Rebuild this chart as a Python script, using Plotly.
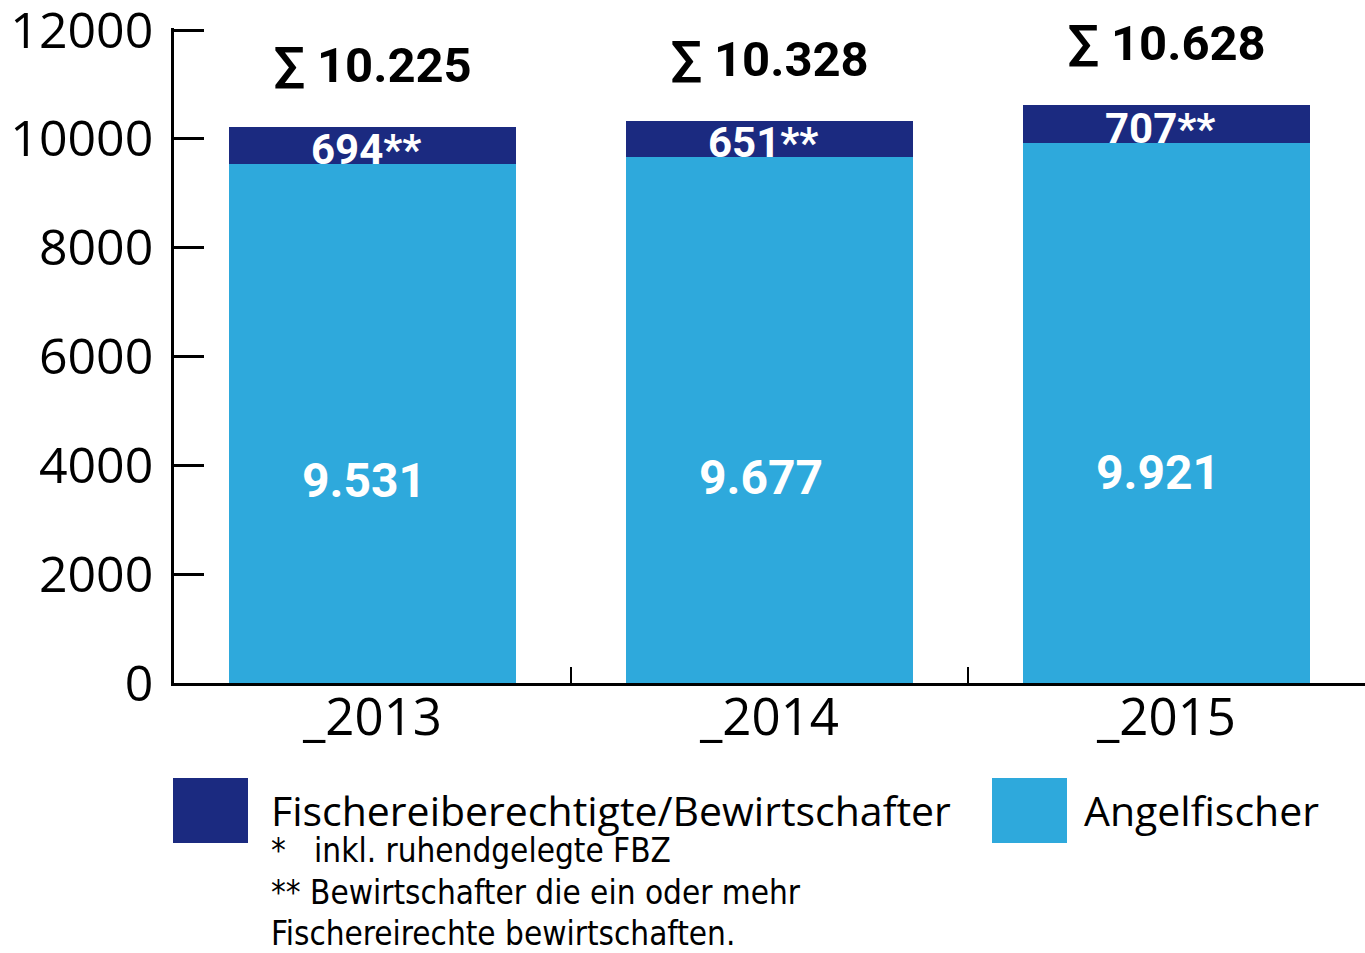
import plotly.graph_objects as go

years = ["_2013", "_2014", "_2015"]
angelfischer = [9531, 9677, 9921]
bewirtschafter = [694, 651, 707]
totals = [10225, 10328, 10628]
angel_labels = ["9.531", "9.677", "9.921"]
bew_labels = ["694**", "651**", "707**"]
sum_labels = ["∑ 10.225", "∑ 10.328", "∑ 10.628"]
y_ticks = [0, 2000, 4000, 6000, 8000, 10000, 12000]
y_ticktext = ["0", "2000", "4000", "6000", "8000", "10000", "12000"]
legend_names = ["Fischereiberechtigte/Bewirtschafter", "Angelfischer"]
footnotes = ["*   inkl. ruhendgelegte FBZ", "** Bewirtschafter die ein oder mehr", "Fischereirechte bewirtschaften."]

DARK = "#1b2a80"
LIGHT = "#2ea9dc"
REG = "Open Sans, Noto Sans, sans-serif"
BOLDF = "Roboto, sans-serif"
NARROW = "DejaVu Sans Condensed, sans-serif"

L, T, B = 174, 28, 683
PW = 1365 - L
PH = B - T

fig = go.Figure()
fig.add_trace(go.Bar(x=years, y=angelfischer, marker=dict(color=LIGHT, line=dict(width=0)),
                     name=legend_names[1], hoverinfo="skip"))
fig.add_trace(go.Bar(x=years, y=bewirtschafter, marker=dict(color=DARK, line=dict(width=0)),
                     name=legend_names[0], hoverinfo="skip"))

ann = []
for i, yr in enumerate(years):
    ann.append(dict(x=yr, y=totals[i], text=f"<b>{sum_labels[i]}</b>", showarrow=False,
                    yanchor="bottom", yshift=31, font=dict(family=BOLDF, size=49, color="black")))
    ann.append(dict(x=yr, y=angelfischer[i] + bewirtschafter[i] / 2, text=f"<b>{bew_labels[i]}</b>",
                    showarrow=False, yanchor="middle", yshift=-4, xshift=-7,
                    font=dict(family=BOLDF, size=42, color="white")))
    ann.append(dict(x=yr, y=angelfischer[i] * 0.39, text=f"<b>{angel_labels[i]}</b>",
                    showarrow=False, yanchor="middle", xshift=-9,
                    font=dict(family=BOLDF, size=48, color="white")))

# manual legend
shapes = []
leg_items = [(legend_names[0], DARK, 173, 270, 41), (legend_names[1], LIGHT, 992, 1083, 41)]
for name, col, x0, tx, fs in leg_items:
    shapes.append(dict(type="rect", xref="paper", yref="paper",
                       x0=(x0 - L) / PW, x1=(x0 + 75 - L) / PW,
                       y0=(B - 843) / PH, y1=(B - 778) / PH,
                       fillcolor=col, line=dict(width=0)))
    ann.append(dict(xref="paper", yref="paper", x=(tx - L) / PW, y=(B - 810) / PH,
                    text=name, showarrow=False, xanchor="left", yanchor="middle", borderpad=0,
                    font=dict(family=REG, size=fs, color="black")))
foot_y = [850, 893, 933]
for j, fn in enumerate(footnotes):
    ann.append(dict(xref="paper", yref="paper", x=(270 - L) / PW, y=(B - foot_y[j]) / PH,
                    text=fn, showarrow=False, xanchor="left", yanchor="middle", borderpad=0,
                    font=dict(family=NARROW, size=33, color="black")))

fig.update_layout(
    width=1365, height=953, barmode="stack", bargap=0.277,
    margin=dict(l=L, r=0, t=T, b=953 - B, autoexpand=False),
    plot_bgcolor="white", paper_bgcolor="white", showlegend=False,
    annotations=ann, shapes=shapes,
    xaxis=dict(showline=True, linecolor="black", linewidth=2.5, ticks="inside", tickson="boundaries",
               ticklen=16, tickwidth=2, tickcolor="black", automargin=False, ticklabelstandoff=-12,
               tickfont=dict(family=REG, size=51, color="black"), showgrid=False),
    yaxis=dict(range=[0, 12040], tickvals=y_ticks, ticktext=y_ticktext, showline=True,
               linecolor="black", linewidth=2.5, automargin=False, ticklabeloverflow="allow",
               ticks="inside", ticklen=30, tickwidth=2.5, tickcolor="black", showgrid=False,
               zeroline=False, ticklabelstandoff=8,
               tickfont=dict(family=REG, size=50, color="black")),
)
fig.write_html("out.html", config={"displayModeBar": False},
               post_script="document.body.style.margin='0';document.body.style.overflow='hidden';")
